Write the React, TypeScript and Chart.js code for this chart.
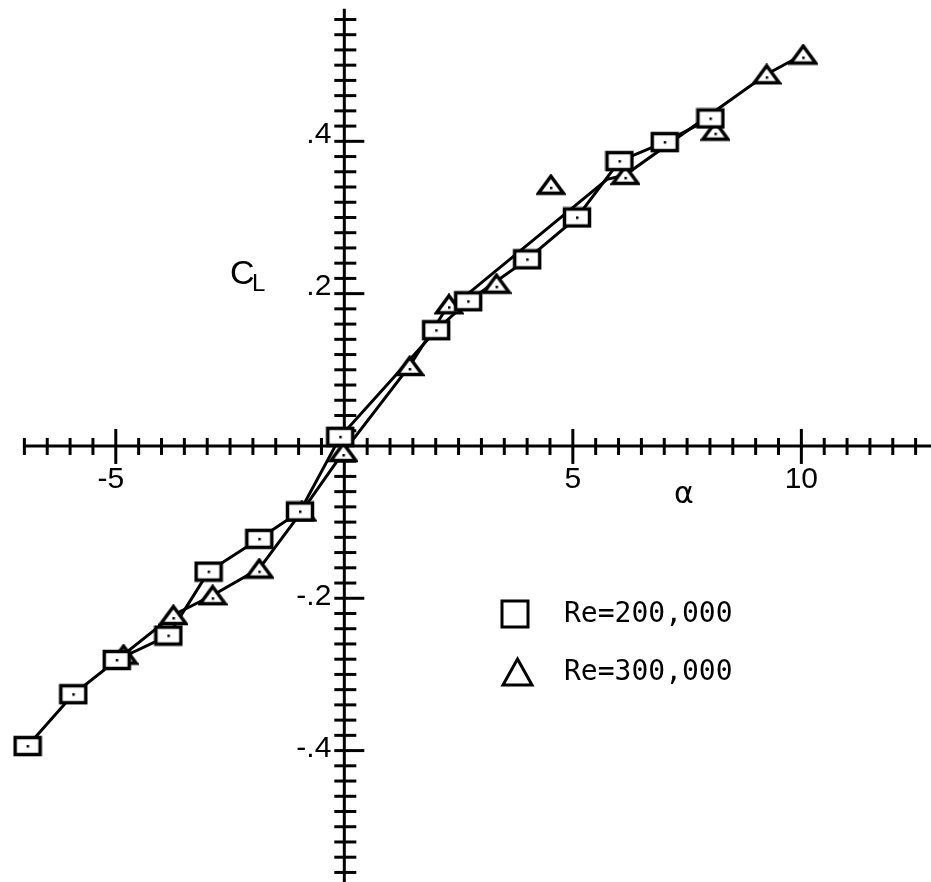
import React, { useEffect, useRef } from "react";
import { Chart, registerables } from "chart.js";

Chart.register(...registerables);

// Lift coefficient vs. angle of attack, Re = 200,000 (squares)
const sqAlpha = [-6.93, -5.93, -4.98, -3.85, -2.97, -1.86, -0.97, -0.09, 2.01, 2.71, 4.0, 5.09, 6.02, 7.01, 8.01];
const sqCL = [-0.394, -0.326, -0.281, -0.249, -0.165, -0.122, -0.086, 0.012, 0.152, 0.19, 0.245, 0.3, 0.374, 0.399, 0.43];

// Re = 300,000 (triangles)
const triAlpha = [-4.83, -3.74, -2.88, -1.86, -0.93, -0.02, 1.43, 2.29, 3.33, 4.52, 6.15, 8.12, 9.24, 10.04];
const triCL = [-0.274, -0.222, -0.196, -0.161, -0.086, -0.008, 0.105, 0.186, 0.213, 0.343, 0.356, 0.414, 0.488, 0.514];

// Faired curve drawn through the Re = 300,000 data
const triCurveAlpha = [-4.83, -3.74, -2.88, -1.86, -0.93, -0.02, 1.43, 2.29, 2.75, 5.75, 6.15, 9.24, 10.04];
const triCurveCL = [-0.274, -0.222, -0.196, -0.161, -0.086, -0.008, 0.105, 0.186, 0.202, 0.35, 0.356, 0.488, 0.514];

// Axis ticks
const xLabeledTicks = [-5, 5, 10];
const xTickText = ["-5", "5", "10"];
const yLabeledTicks = [0.4, 0.2, -0.2, -0.4];
const yTickText = [".4", ".2", "-.2", "-.4"];
const xMinorStep = 0.5;
const yMinorStep = 0.02;

const legendEntries = ["Re=200,000", "Re=300,000"];

const pts = (xs: number[], ys: number[]) => xs.map((v, i) => ({ x: v, y: ys[i] }));

function makeMarker(kind: "square" | "triangle"): HTMLCanvasElement {
  const c = document.createElement("canvas");
  c.width = 30;
  c.height = 22;
  const g = c.getContext("2d")!;
  g.lineWidth = 3.5;
  g.strokeStyle = "#000";
  g.fillStyle = "#fff";
  g.lineJoin = "miter";
  g.beginPath();
  if (kind === "square") {
    g.rect(2.5, 2.5, 25, 17);
  } else {
    g.moveTo(15, 2.5);
    g.lineTo(27.5, 19.5);
    g.lineTo(2.5, 19.5);
    g.closePath();
  }
  g.fill();
  g.stroke();
  g.fillStyle = "#000";
  g.fillRect(14, kind === "square" ? 10 : 13, 2.5, 2.5);
  return c;
}

const crossAxes = {
  id: "crossAxes",
  beforeDatasetsDraw(chart: any) {
    const { ctx } = chart;
    const xs = chart.scales.x;
    const ys = chart.scales.y;
    const x0 = xs.getPixelForValue(0);
    const y0 = ys.getPixelForValue(0);
    ctx.save();
    ctx.strokeStyle = "#000";
    ctx.fillStyle = "#000";
    ctx.lineWidth = 3;

    // horizontal axis
    ctx.beginPath();
    ctx.moveTo(xs.getPixelForValue(-7) - 1, y0);
    ctx.lineTo(chart.width, y0);
    ctx.stroke();
    for (let i = -14; i <= 25; i++) {
      const v = i * xMinorStep;
      if (v === 0) continue;
      const px = xs.getPixelForValue(v);
      const major = xLabeledTicks.includes(v);
      ctx.beginPath();
      ctx.moveTo(px, y0 - (major ? 17 : 8));
      ctx.lineTo(px, y0 + (major ? 18 : 9));
      ctx.stroke();
    }

    // vertical axis
    ctx.beginPath();
    ctx.moveTo(x0, ys.getPixelForValue(0.574));
    ctx.lineTo(x0, chart.height);
    ctx.stroke();
    for (let i = -28; i <= 28; i++) {
      if (i === 0) continue;
      const v = i * yMinorStep;
      const py = ys.getPixelForValue(v);
      const major = i % 10 === 0;
      ctx.beginPath();
      ctx.moveTo(x0 - 10, py);
      ctx.lineTo(x0 + (major ? 20 : 12), py);
      ctx.stroke();
    }

    // tick labels
    ctx.font = "30px 'Liberation Sans'";
    ctx.textAlign = "center";
    ctx.textBaseline = "middle";
    xLabeledTicks.forEach((v, i) => {
      ctx.fillText(xTickText[i], xs.getPixelForValue(v) - (v < 0 ? 5 : 0), y0 + 34);
    });
    ctx.textAlign = "right";
    yLabeledTicks.forEach((v, i) => {
      ctx.fillText(yTickText[i], x0 - 13, ys.getPixelForValue(v) - (v > 0 ? 7 : 2));
    });

    // axis titles
    ctx.textAlign = "left";
    ctx.textBaseline = "alphabetic";
    ctx.font = "34px 'Liberation Sans'";
    ctx.fillText("C", 230, 284);
    ctx.font = "24px 'Liberation Sans'";
    ctx.fillText("L", 252, 291);
    ctx.font = "30px 'DejaVu Sans'";
    ctx.textAlign = "center";
    ctx.fillText("α", 684, 503);
    ctx.restore();
  },
  afterDraw(chart: any) {
    const { ctx } = chart;
    ctx.save();
    ctx.strokeStyle = "#000";
    ctx.lineWidth = 3;
    // legend symbols
    ctx.strokeRect(502, 601, 26, 26);
    ctx.beginPath();
    ctx.moveTo(517.5, 659);
    ctx.lineTo(532, 685);
    ctx.lineTo(503, 685);
    ctx.closePath();
    ctx.stroke();
    ctx.fillStyle = "#000";
    ctx.font = "28px 'DejaVu Sans Mono'";
    ctx.textAlign = "left";
    ctx.textBaseline = "middle";
    ctx.fillText(legendEntries[0], 564, 615);
    ctx.fillText(legendEntries[1], 564, 673);
    ctx.restore();
  },
};

export default function App() {
  const ref = useRef<HTMLCanvasElement>(null);

  useEffect(() => {
    document.body.style.margin = "0";
    const squareImg = makeMarker("square");
    const triImg = makeMarker("triangle");
    const chart = new Chart(ref.current!, {
      type: "scatter",
      data: {
        datasets: [
          {
            label: "Re=200,000",
            data: pts(sqAlpha, sqCL),
            showLine: false,
            pointStyle: squareImg as any,
            order: 0,
          },
          {
            label: "Re=300,000",
            data: pts(triAlpha, triCL),
            showLine: false,
            pointStyle: triImg as any,
            order: 0,
          },
          {
            label: "Re=200,000 curve",
            data: pts(sqAlpha, sqCL),
            showLine: true,
            borderColor: "#000",
            borderWidth: 3,
            pointRadius: 0,
            tension: 0,
            order: 1,
          },
          {
            label: "Re=300,000 curve",
            data: pts(triCurveAlpha, triCurveCL),
            showLine: true,
            borderColor: "#000",
            borderWidth: 3,
            pointRadius: 0,
            tension: 0,
            order: 1,
          },
        ],
      },
      options: {
        responsive: false,
        animation: false,
        layout: { padding: 0 },
        plugins: { legend: { display: false }, tooltip: { enabled: false } },
        scales: {
          x: { type: "linear", min: -7.424, max: 12.727, display: false },
          y: { type: "linear", min: -0.566, max: 0.579, display: false },
        },
      },
      plugins: [crossAxes],
    });
    return () => chart.destroy();
  }, []);

  return (
    <div style={{ position: "absolute", left: 0, top: 0, width: 931, height: 882, background: "#fff" }}>
      <canvas ref={ref} width={931} height={882} style={{ display: "block" }} />
    </div>
  );
}
